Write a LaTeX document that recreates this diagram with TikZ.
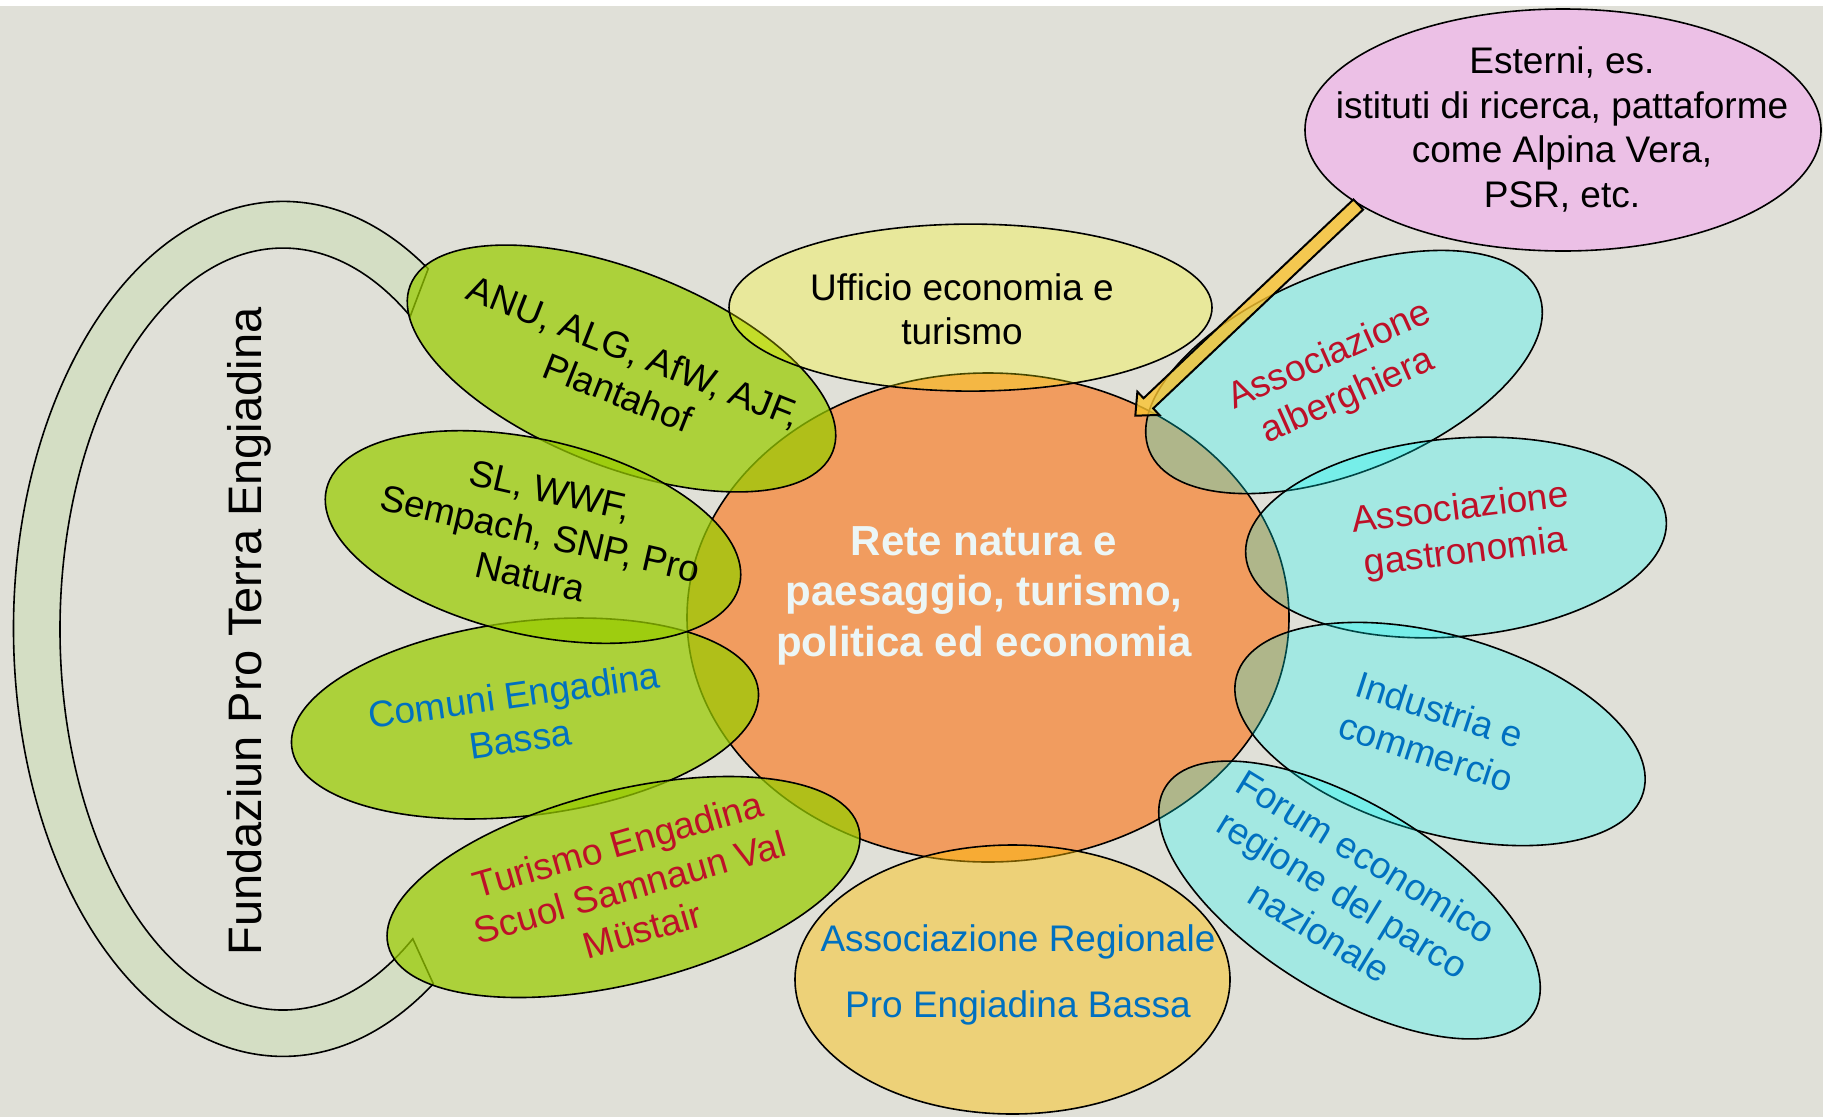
\documentclass[tikz,border=0pt]{standalone}
\usepackage{fontspec}
\setmainfont{Liberation Sans}
\usetikzlibrary{shapes.geometric,calc}
\definecolor{bgc}{RGB}{224,224,216}
\definecolor{ringc}{RGB}{212,222,196}
\definecolor{greenc}{RGB}{153,204,0}
\definecolor{cyanc}{RGB}{0,255,255}
\definecolor{orangec}{RGB}{255,102,0}
\definecolor{yellowc}{RGB}{255,255,0}
\definecolor{goldc}{RGB}{255,192,0}
\definecolor{pinkc}{RGB}{236,192,230}
\definecolor{arrowc}{RGB}{249,194,46}
\definecolor{bluet}{RGB}{0,112,192}
\definecolor{redt}{RGB}{190,16,40}
\definecolor{whitet}{RGB}{236,246,246}
\begin{document}
\begin{tikzpicture}[x=1pt,y=1pt,yscale=-1,
  ell/.style={ellipse, draw=black, line width=1.6pt, inner sep=0pt},
  greenell/.style={ell, fill=greenc, fill opacity=0.73},
  cyanell/.style={ell, fill=cyanc, fill opacity=0.27},
  txt/.style={font=\fontsize{37}{44.4}\selectfont, align=center, inner sep=0pt},
  arrowst/.style={draw=black, line width=2pt, fill=arrowc, fill opacity=0.8, line join=miter}
]
\useasboundingbox (0,0) rectangle (1823,1117);
\fill[bgc] (0,0) rectangle (1823,1117);
\fill[white] (0,0) rectangle (1823,6);

% ring
\filldraw[fill=ringc, draw=black, line width=1.6pt]
  (428.2,268.8) arc[start angle=-57.4, end angle=-303.9, x radius=269.5, y radius=427.5]
  -- (412.8,938.8) arc[start angle=-305.6, end angle=-55.2, x radius=223, y radius=381]
  -- cycle;

% core
\node[ell, fill=orangec, fill opacity=0.555, minimum width=602pt, minimum height=489pt] (core) at (988,617.5) {};

% green
\node[greenell, minimum width=454pt, minimum height=196pt, rotate=-21.5] (anu) at (621.5,368.5) {};
\node[greenell, minimum width=470pt, minimum height=194pt, rotate=7] (comuni) at (525,718.5) {};
\node[greenell, minimum width=424pt, minimum height=195pt, rotate=-13] (sl) at (533,537) {};
\node[greenell, minimum width=485pt, minimum height=193pt, rotate=14] (turismo) at (623.5,887) {};

% yellow
\node[ell, fill=yellowc, fill opacity=0.28, minimum width=483pt, minimum height=167pt] (ufficio) at (970.5,307.6) {};

% cyan
\node[cyanell, minimum width=420pt, minimum height=200pt, rotate=22] (alb) at (1344,372) {};
\node[cyanell, minimum width=422pt, minimum height=198pt, rotate=5] (gas) at (1456,537.5) {};
\node[cyanell, minimum width=423pt, minimum height=198pt, rotate=-16] (ind) at (1440,734) {};
\node[cyanell, minimum width=432pt, minimum height=190pt, rotate=-31.5] (forum) at (1349.5,900) {};

% gold
\node[ell, fill=goldc, fill opacity=0.444, minimum width=435pt, minimum height=269pt] (proeng) at (1012.5,979.5) {};

% pink
\node[ell, fill=pinkc, minimum width=516pt, minimum height=242pt] (ext) at (1563,130) {};

% arrow
\coordinate (as) at (ext.200.8);
\coordinate (at) at (1135.3,415.7);
\coordinate (ab) at ($(at)!18pt!(as)$);
\filldraw[arrowst] ($(as)!7pt!90:(at)$) -- ($(ab)!7pt!-90:(as)$) -- ($(ab)!16pt!-90:(as)$) -- (at)
  -- ($(ab)!16pt!90:(as)$) -- ($(ab)!7pt!90:(as)$) -- ($(as)!7pt!-90:(at)$) -- cycle;

% texts
\node[txt, font=\fontsize{47}{56}\selectfont, rotate=90] (fundT) at (249.5,631.5) {Fundaziun Pro Terra Engiadina};
\node[txt, font=\fontsize{42}{50.6}\selectfont\bfseries, text=whitet] (coreT) at (984,595.6) {Rete natura e\\paesaggio, turismo,\\politica ed economia};
\node[txt, rotate=-21.5] (anuT) at (626,372) {ANU, ALG, AfW, AJF,\\Plantahof};
\node[txt, rotate=-13] (slT) at (540.6,533.6) {SL, WWF,\\Sempach, SNP, Pro\\Natura};
\node[txt, rotate=8, text=bluet] (comuniT) at (517,717) {Comuni Engadina\\Bassa};
\node[txt, rotate=16, text=redt] (turismoT) at (630,887) {Turismo Engadina\\Scuol Samnaun Val\\Müstair};
\node[txt] (ufficioT) at (962,309) {Ufficio economia e\\turismo};
\node[txt, rotate=24, text=redt] (albT) at (1339,377) {Associazione\\alberghiera};
\node[txt, rotate=7, text=redt] (gasT) at (1463,532) {Associazione\\gastronomia};
\node[txt, rotate=-18, text=bluet] (indT) at (1433,731) {Industria e\\commercio};
\node[txt, rotate=-31.5, text=bluet] (forumT) at (1343,894) {Forum economico\\regione del parco\\nazionale};
\node[txt, text=bluet] (proengT) at (1018,974.5) {Associazione Regionale\\[21.6pt]Pro Engiadina Bassa};
\node[txt] (extT) at (1562,129.5) {Esterni, es.\\istituti di ricerca, pattaforme\\come Alpina Vera,\\PSR, etc.};
\end{tikzpicture}
\end{document}
